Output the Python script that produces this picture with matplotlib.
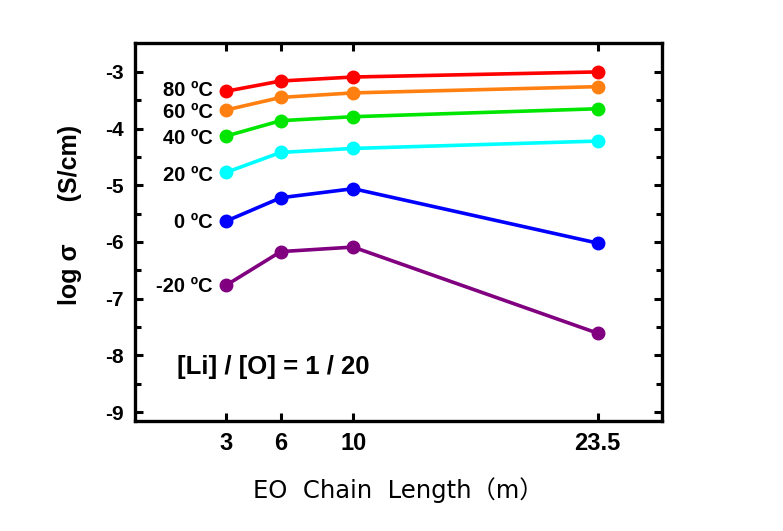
import numpy as np
import matplotlib.pyplot as plt

# ── Data ──────────────────────────────────────────────────────────────────────

chain_length = [3, 6, 10, 23.5]
x_tick_labels = ["3", "6", "10", "23.5"]

temps  = ["80 ºC", "60 ºC", "40 ºC", "20 ºC", "0 ºC", "-20 ºC"]
colors = ["#ff0000", "#ff8010", "#00e600", "#00ffff", "#0000ff", "#800080"]

log_sigma_80  = [-3.34, -3.16, -3.09, -3.00]
log_sigma_60  = [-3.67, -3.45, -3.37, -3.26]
log_sigma_40  = [-4.13, -3.86, -3.79, -3.65]
log_sigma_20  = [-4.77, -4.42, -4.35, -4.22]
log_sigma_0   = [-5.63, -5.22, -5.06, -6.02]
log_sigma_m20 = [-6.76, -6.17, -6.09, -7.61]

series = [log_sigma_80, log_sigma_60, log_sigma_40,
          log_sigma_20, log_sigma_0, log_sigma_m20]
label_y = [-3.32, -3.72, -4.17, -4.82, -5.65, -6.79]

# ── Plot ──────────────────────────────────────────────────────────────────────

plt.rcParams["font.family"] = ["Liberation Sans", "DejaVu Sans"]

fig = plt.figure(figsize=(7.83, 5.31), dpi=100)
ax = fig.add_axes([0.1724, 0.207, 0.673, 0.712])

for ys, c, t, ly in zip(series, colors, temps, label_y):
    ax.plot(chain_length, ys, color=c, lw=2.6, marker="o", ms=9, zorder=3)
    ax.text(2.25, ly, t, ha="right", va="center", fontsize=14.5, fontweight="bold")

ax.text(0.27, -8.21, "[Li] / [O] = 1 / 20", ha="left", va="center",
        fontsize=18.5, fontweight="bold")

ax.set_xlim(-2.05, 27.05)
ax.set_ylim(-9.16, -2.49)
ax.set_xticks(chain_length)
ax.set_xticklabels(x_tick_labels, fontsize=17, fontweight="bold")
ax.set_yticks(np.arange(-9, -2, 1))
ax.set_yticklabels([str(v) for v in range(-9, -2)], fontsize=15, fontweight="bold")
ax.set_yticks(np.arange(-8.5, -2.5, 1), minor=True)

ax.tick_params(which="both", direction="in", width=2.2, right=True)
ax.tick_params(which="major", length=6, top=True)
ax.tick_params(which="minor", length=4)
ax.tick_params(axis="y", pad=8)
ax.tick_params(axis="x", pad=8)
for s in ax.spines.values():
    s.set_linewidth(2.4)

ax.set_ylabel("log σ      (S/cm)", fontsize=18, fontweight="bold")
ax.yaxis.set_label_coords(-0.10, 0.545)
ax.set_xlabel("EO  Chain  Length（m）", fontsize=17.5,
              family=["DejaVu Sans", "Noto Sans CJK JP"], labelpad=16)

fig.savefig("out.png", dpi=100, facecolor="white")
